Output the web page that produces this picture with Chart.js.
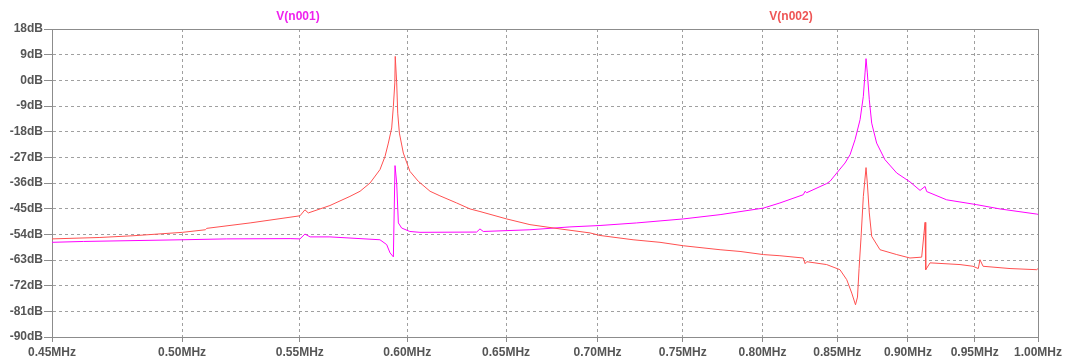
<!DOCTYPE html>
<html>
<head>
<meta charset="utf-8">
<script src="https://cdn.jsdelivr.net/npm/chart.js@4"></script>
<style>
  body { margin: 0; background: #fff; }
  #wrap { width: 1067px; height: 360px; }
</style>
</head>
<body>
<div id="wrap"><canvas id="bode" width="1067" height="360"></canvas></div>
<script>
// frequency axis ticks (MHz)
const freqTicks = [0.45, 0.50, 0.55, 0.60, 0.65, 0.70, 0.75, 0.80, 0.85, 0.90, 0.95, 1.00];

// V(n001) magnitude, MHz / dB
const n001Freq = [0.450, 0.4616, 0.5002, 0.5184, 0.5457, 0.5501, 0.5523, 0.5546, 0.5636, 0.5869,
  0.5901, 0.5917, 0.5933, 0.5941, 0.5949, 0.5957, 0.5973, 0.6013, 0.6062, 0.6347,
  0.6364, 0.6381, 0.6627, 0.6845, 0.7014, 0.7225, 0.7503, 0.7730, 0.8006, 0.8114,
  0.8269, 0.8281, 0.8292, 0.8427, 0.8450, 0.8496, 0.8553, 0.8588, 0.8623, 0.8658,
  0.8681, 0.8693, 0.8700, 0.8709, 0.8723, 0.8740, 0.8775, 0.8834, 0.8919, 0.9015,
  0.9089, 0.9126, 0.9138, 0.9287, 0.9516, 0.9697, 0.9990, 1.000];
const n001Db = [-56.8, -56.5, -55.9, -55.6, -55.5, -55.6, -53.9, -54.9, -54.9, -55.9,
  -57.6, -60.5, -61.9, -29.9, -36.0, -50.0, -51.8, -53.0, -53.3, -53.2,
  -52.1, -53.0, -52.4, -51.4, -50.9, -50.0, -48.6, -47.1, -44.8, -43.0,
  -40.1, -38.9, -39.4, -36.2, -35.4, -32.5, -29.0, -26.1, -20.8, -13.8,
  -5.6, 2.6, 7.6, 2.6, -6.8, -15.0, -22.0, -27.8, -32.5, -35.6,
  -38.6, -37.2, -39.0, -41.9, -43.6, -45.1, -46.9, -47.0];

// V(n002) magnitude, MHz / dB
const n002Freq = [0.450, 0.4678, 0.4805, 0.5002, 0.5095, 0.5101, 0.5283, 0.5501, 0.5523, 0.5538,
  0.5636, 0.5728, 0.5775, 0.5822, 0.5869, 0.5893, 0.5909, 0.5925, 0.5933, 0.5940,
  0.5942, 0.5949, 0.5954, 0.5962, 0.5981, 0.6013, 0.6054, 0.6112, 0.6161, 0.6245,
  0.6313, 0.6364, 0.6503, 0.6627, 0.6790, 0.6957, 0.7014, 0.7204, 0.7363, 0.7503,
  0.7730, 0.7856, 0.8006, 0.8114, 0.8269, 0.8281, 0.8292, 0.8427, 0.8518, 0.8565,
  0.8600, 0.8626, 0.8640, 0.8651, 0.8665, 0.8681, 0.8700, 0.8709, 0.8723, 0.8740,
  0.8799, 0.8919, 0.9015, 0.9101, 0.9126, 0.9131, 0.9163, 0.9388, 0.9487, 0.9528,
  0.9541, 0.9565, 0.9776, 0.9990, 1.000];
const n002Db = [-55.6, -55.1, -54.5, -53.3, -52.4, -51.9, -50.0, -47.5, -45.4, -46.5,
  -43.9, -40.7, -38.9, -36.0, -31.3, -26.7, -22.0, -16.7, -9.1, -0.9,
  8.4, -0.9, -11.5, -18.5, -25.5, -31.9, -35.4, -38.9, -40.5, -43.0,
  -45.1, -46.0, -48.6, -50.6, -52.1, -53.5, -54.4, -55.9, -56.8, -58.0,
  -59.4, -60.0, -61.1, -61.5, -62.3, -64.3, -63.6, -64.6, -66.4, -69.9,
  -74.6, -78.7, -76.0, -66.0, -55.0, -40.7, -30.6, -36.0, -46.5, -54.7,
  -59.4, -61.1, -62.3, -62.0, -49.8, -66.4, -64.0, -64.6, -65.2, -66.0,
  -62.9, -65.2, -66.0, -66.4, -66.0];

const traceNames = ["V(n001)", "V(n002)"];
const traceColors = ["#ff00ff", "#ff5050"];
const titleColors = ["#ee22ee", "#ee5555"];

function toPoints(xs, ys) {
  return xs.map((x, i) => ({ x: x, y: ys[i] }));
}

// gray frame round the plot + trace names above it
const framePlugin = {
  id: "frame",
  beforeDatasetsDraw(chart) {
    const a = chart.chartArea;
    const ctx = chart.ctx;
    ctx.save();
    ctx.strokeStyle = "#8c8c8c";
    ctx.lineWidth = 1;
    ctx.strokeRect(Math.round(a.left) + 0.5, Math.round(a.top) + 0.5,
      Math.round(a.right - a.left), Math.round(a.bottom - a.top));
    ctx.restore();
  },
  afterDraw(chart) {
    const ctx = chart.ctx;
    const xs = chart.scales.x;
    ctx.save();
    ctx.font = "bold 12px 'Liberation Sans', Arial, sans-serif";
    ctx.textAlign = "center";
    ctx.textBaseline = "middle";
    // trace names, one over each half of the sweep
    const spots = [0.5492, 0.8187];
    traceNames.forEach((name, i) => {
      ctx.fillStyle = titleColors[i];
      ctx.fillText(name, xs.getPixelForValue(spots[i]), 17);
    });
    ctx.restore();
  }
};

const tickFont = { family: "'Liberation Sans', Arial, sans-serif", size: 12, weight: "bold" };

new Chart(document.getElementById("bode"), {
  type: "line",
  data: {
    datasets: [
      {
        label: traceNames[1],
        data: toPoints(n002Freq, n002Db),
        borderColor: traceColors[1],
        borderWidth: 1,
        pointRadius: 0,
        tension: 0,
      },
      {
        label: traceNames[0],
        data: toPoints(n001Freq, n001Db),
        borderColor: traceColors[0],
        borderWidth: 1,
        pointRadius: 0,
        tension: 0,
      },
    ],
  },
  options: {
    responsive: false,
    animation: false,
    devicePixelRatio: 1,
    layout: { padding: { top: 29, right: 29, left: 0, bottom: 0 } },
    plugins: {
      legend: { display: false },
      tooltip: { enabled: false },
    },
    scales: {
      x: {
        type: "logarithmic",
        min: 0.45,
        max: 1.0,
        afterBuildTicks: (scale) => {
          scale.ticks = freqTicks.map((v) => ({ value: v }));
        },
        afterFit: (scale) => { scale.height = 23; },
        ticks: {
          autoSkip: false,
          maxRotation: 0,
          padding: 3,
          color: "#555",
          font: tickFont,
          callback: (v) => Number(v).toFixed(2) + "MHz",
        },
        grid: { color: "#a0a0a0", tickLength: 5, tickColor: "#8c8c8c", tickBorderDash: [] },
        border: { display: true, color: "#8c8c8c", dash: [3, 3] },
      },
      y: {
        min: -90,
        max: 18,
        afterFit: (scale) => { scale.width = 52; },
        ticks: {
          stepSize: 9,
          padding: 1,
          color: "#555",
          font: tickFont,
          callback: (v) => v + "dB",
        },
        grid: { color: "#a0a0a0", tickLength: 8, tickColor: "#8c8c8c", tickBorderDash: [] },
        border: { display: true, color: "#8c8c8c", dash: [3, 3] },
      },
    },
  },
  plugins: [framePlugin],
});
</script>
</body>
</html>
